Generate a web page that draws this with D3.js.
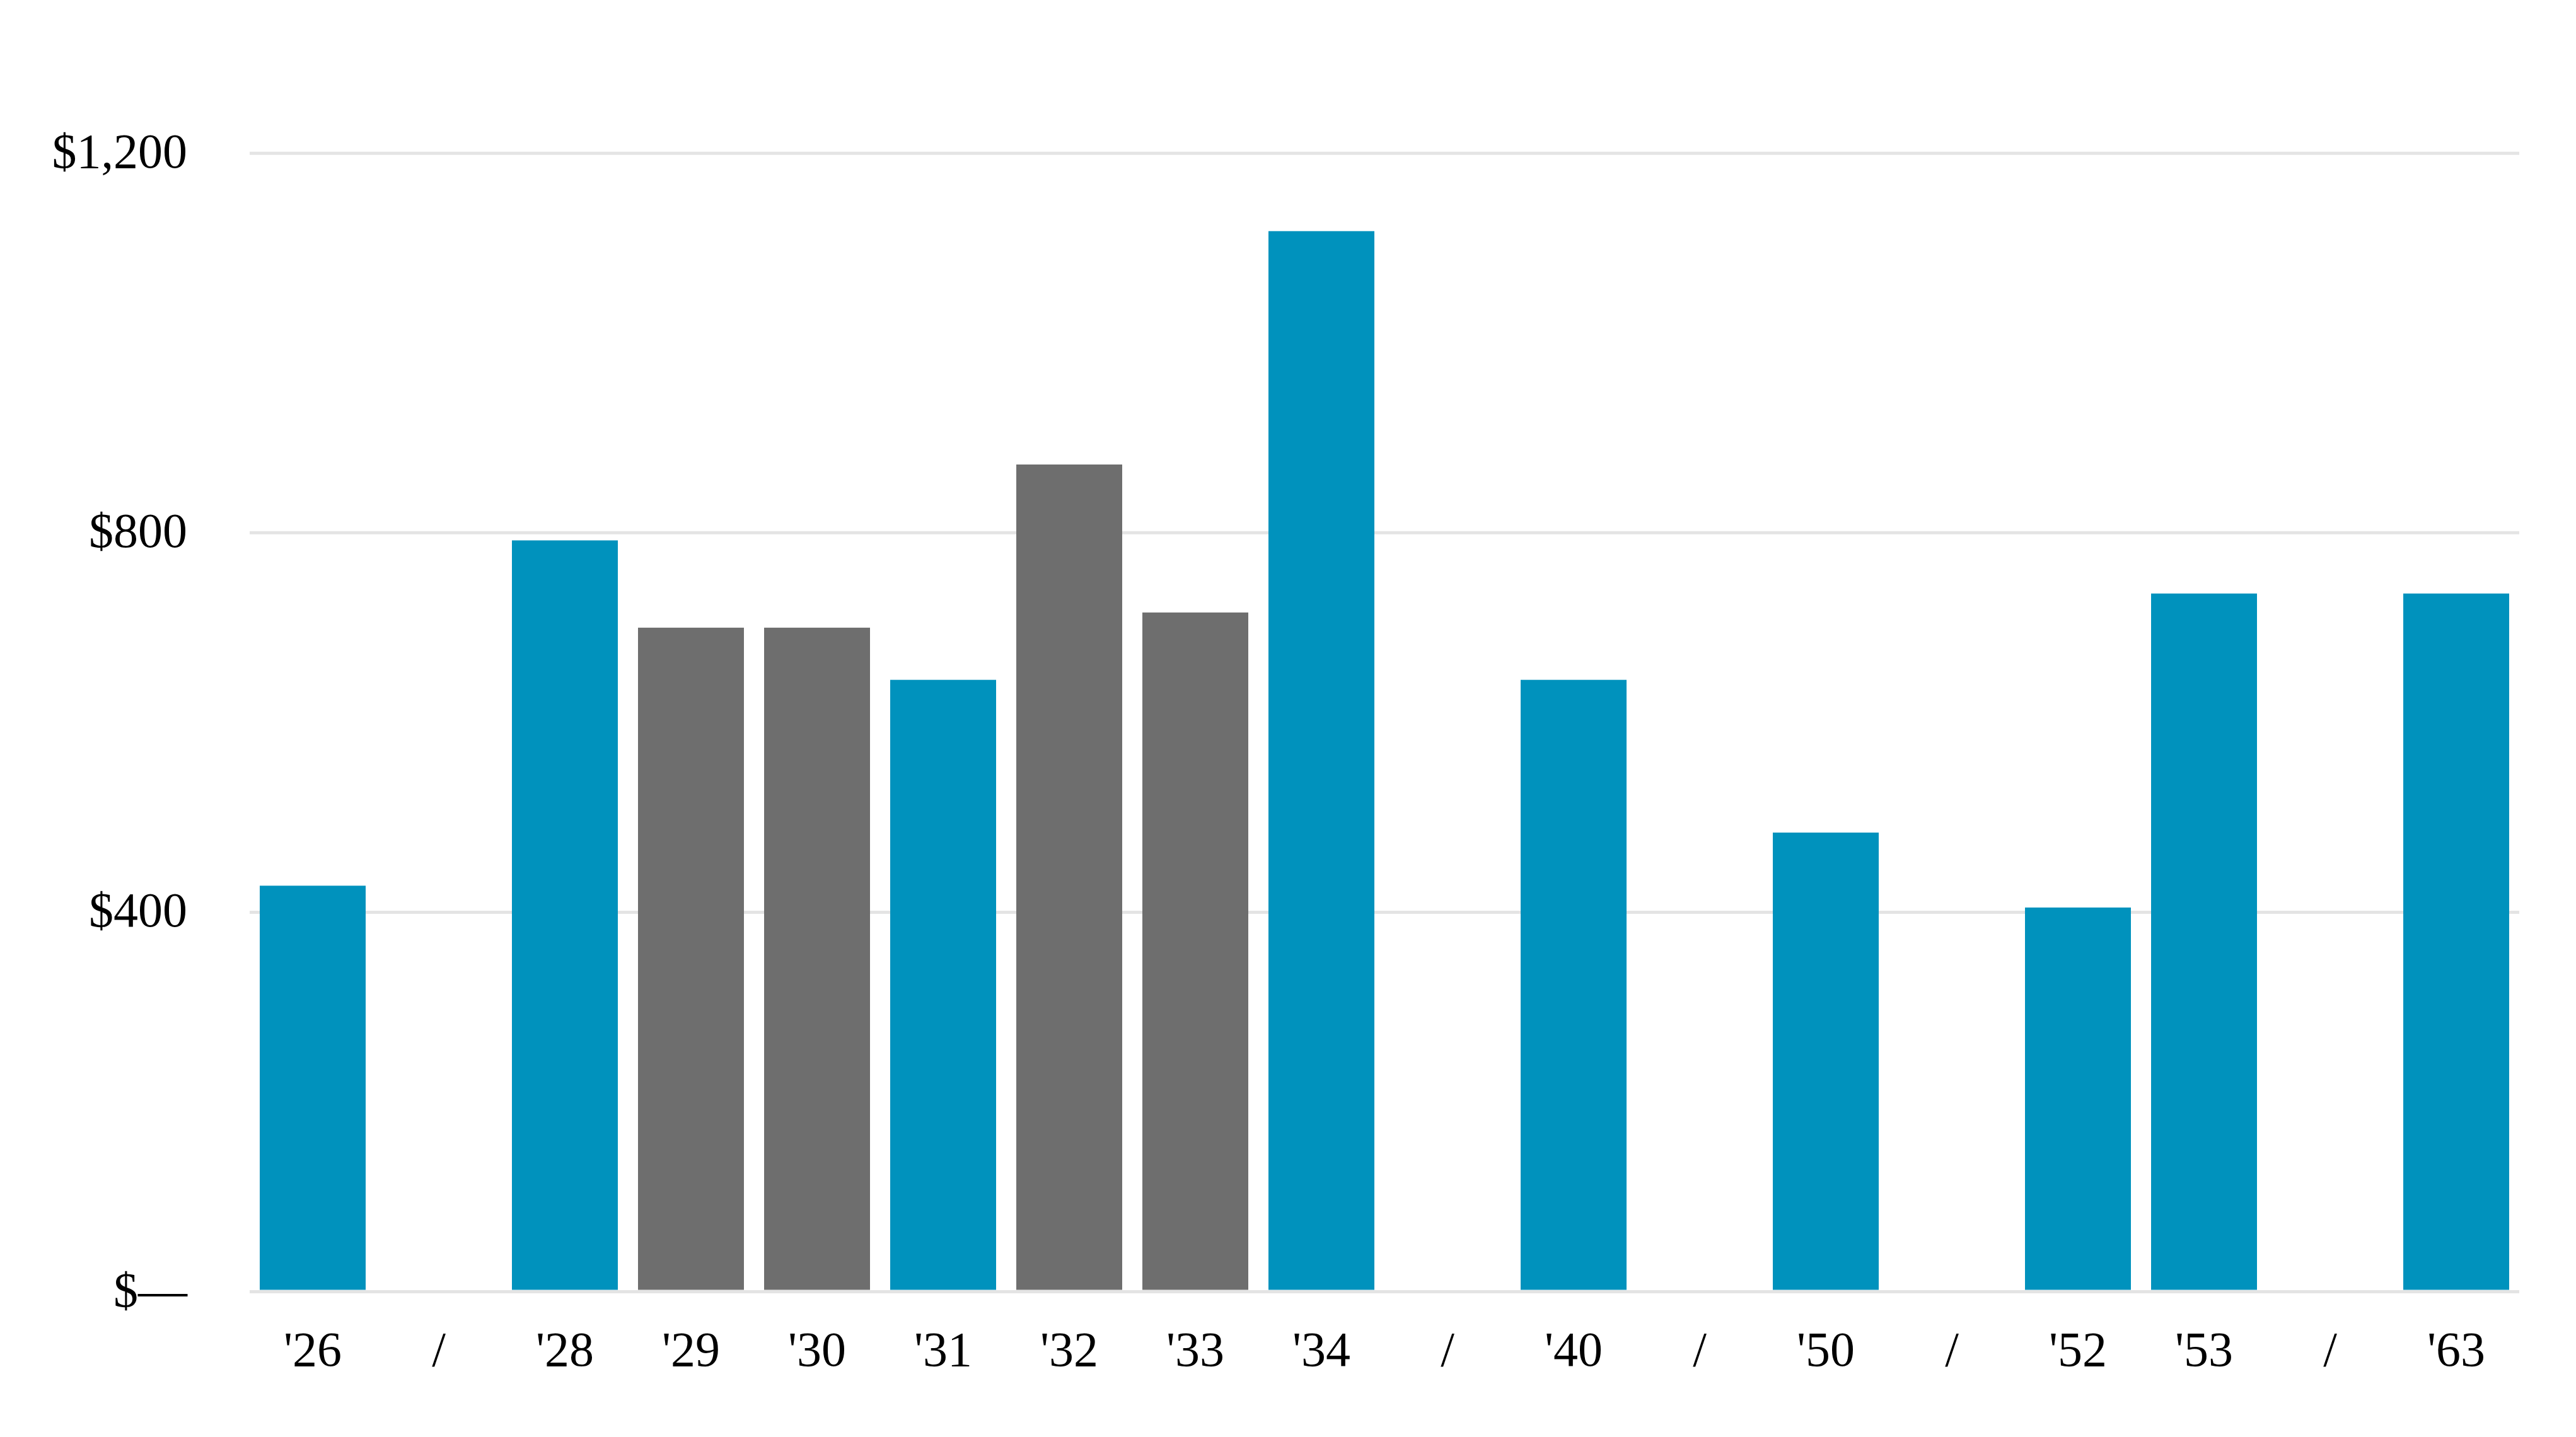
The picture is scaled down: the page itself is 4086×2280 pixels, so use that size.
<!DOCTYPE html>
<html>
<head>
<meta charset="utf-8">
<script src="https://cdnjs.cloudflare.com/ajax/libs/d3/7.8.5/d3.min.js"></script>
<style>
  html, body { margin: 0; padding: 0; background: #ffffff; }
  text { font-family: "Liberation Serif", "Times New Roman", serif; fill: #000000; }
</style>
</head>
<body>
<div id="grafico"></div>
<script>
// Datos del grafico ("/" marca un salto en el eje, sin barra)
var etiquetas = ["'26", "/", "'28", "'29", "'30", "'31", "'32", "'33", "'34", "/", "'40", "/", "'50", "/", "'52", "'53", "/", "'63"];
var valores   = [428, null, 792, 700, 700, 645, 872, 716, 1118, null, 645, null, 484, null, 405, 736, null, 736];
// 1 = barra gris, 0 = barra azul
var grises    = [0, 0, 0, 1, 1, 0, 1, 1, 0, 0, 0, 0, 0, 0, 0, 0, 0, 0];
var ticksY    = [0, 400, 800, 1200];
var etiquetasY = ["$\u2014", "$400", "$800", "$1,200"];

var colores = ["#0092bd", "#6e6e6e"];

// Dimensiones
var width = 4086,
    height = 2280;

var svg = d3.select("#grafico")
    .append("svg")
    .attr("width", width)
    .attr("height", height);

var x = d3.scaleBand()
    .domain(d3.range(etiquetas.length))
    .range([396, 3996])
    .paddingInner(0.16)
    .paddingOuter(0.08);

var y = d3.scaleLinear()
    .domain([0, 1200])
    .range([2049.5, 243.3]);

/************ Lineas de fondo ************/
svg.append("g")
    .selectAll("line")
    .data(ticksY)
    .enter()
    .append("line")
    .attr("x1", 396)
    .attr("x2", 3996)
    .attr("y1", function(d){ return y(d); })
    .attr("y2", function(d){ return y(d); })
    .style("stroke", "#e4e4e4")
    .style("stroke-width", 5);

/************ Barras ************/
var datos = etiquetas.map(function(e, i){ return {i: i, v: valores[i], g: grises[i]}; })
    .filter(function(d){ return d.v !== null; });

svg.append("g")
    .selectAll("rect")
    .data(datos)
    .enter()
    .append("rect")
    .attr("x", function(d){ return x(d.i); })
    .attr("width", x.bandwidth())
    .attr("y", function(d){ return y(d.v); })
    .attr("height", function(d){ return y(0) - 3 - y(d.v); })
    .attr("fill", function(d){ return colores[d.g]; });

/************ Eje Y (textos) ************/
var ejeY = svg.append("g");
ticksY.forEach(function(t, i){
    drawText(ejeY, 297, y(t) + 23, etiquetasY[i], "end");
});

/************ Eje X (textos) ************/
var ejeX = svg.append("g");
etiquetas.forEach(function(e, i){
    drawText(ejeX, x(i) + x.bandwidth() / 2, 2167, e, "middle");
});

// Funcion auxiliar para pintar texto
function drawText(element, px, py, texto, align){
    element.append("text")
        .attr("x", px).attr("y", py)
        .text(texto)
        .style("text-anchor", align)
        .style("font-size", "78px");
    return element;
}
</script>
</body>
</html>
